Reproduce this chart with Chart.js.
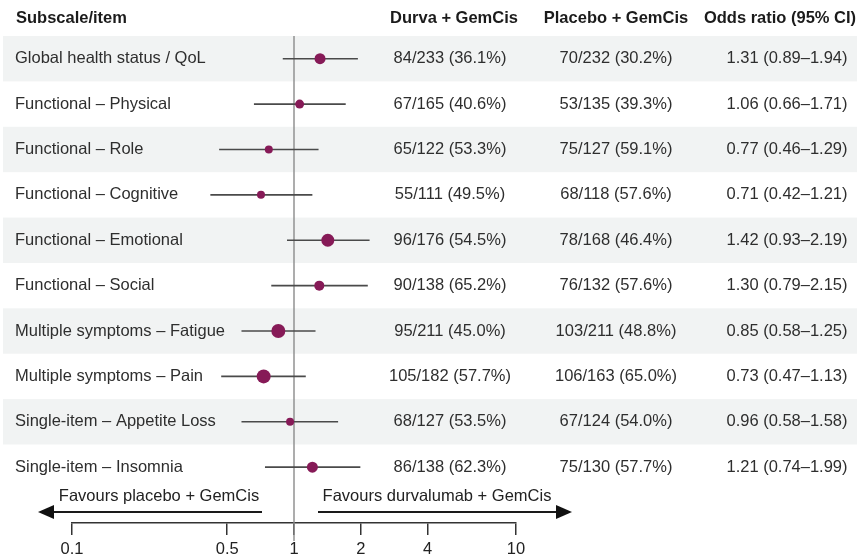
<!DOCTYPE html>
<html>
<head>
<meta charset="utf-8">
<script src="https://cdn.jsdelivr.net/npm/chart.js@4/dist/chart.umd.min.js"></script>
<style>
  html, body { margin: 0; padding: 0; background: #ffffff; }
  #wrap { width: 857px; height: 557px; position: relative; }
  canvas { display: block; }
</style>
</head>
<body>
<div id="wrap"><canvas id="forest" width="857" height="557"></canvas></div>
<script>
// Subscale / item rows, top to bottom
const items = [
  'Global health status / QoL',
  'Functional \u2013 Physical',
  'Functional \u2013 Role',
  'Functional \u2013 Cognitive',
  'Functional \u2013 Emotional',
  'Functional \u2013 Social',
  'Multiple symptoms \u2013 Fatigue',
  'Multiple symptoms \u2013 Pain',
  'Single-item \u2013 Appetite Loss',
  'Single-item \u2013 Insomnia'
];

// Durvalumab + GemCis: responders / evaluable (%)
const durvaEvents = [84, 67, 65, 55, 96, 90, 95, 105, 68, 86];
const durvaTotal  = [233, 165, 122, 111, 176, 138, 211, 182, 127, 138];
const durvaPct    = [36.1, 40.6, 53.3, 49.5, 54.5, 65.2, 45.0, 57.7, 53.5, 62.3];

// Placebo + GemCis: responders / evaluable (%)
const placeboEvents = [70, 53, 75, 68, 78, 76, 103, 106, 67, 75];
const placeboTotal  = [232, 135, 127, 118, 168, 132, 211, 163, 124, 130];
const placeboPct    = [30.2, 39.3, 59.1, 57.6, 46.4, 57.6, 48.8, 65.0, 54.0, 57.7];

// Odds ratios with 95% confidence limits
const oddsRatio = [1.31, 1.06, 0.77, 0.71, 1.42, 1.30, 0.85, 0.73, 0.96, 1.21];
const ciLower   = [0.89, 0.66, 0.46, 0.42, 0.93, 0.79, 0.58, 0.47, 0.58, 0.74];
const ciUpper   = [1.94, 1.71, 1.29, 1.21, 2.19, 2.15, 1.25, 1.13, 1.58, 1.99];

// Relative marker weight for each estimate
const markerWeight = [5.5, 4.5, 4, 4, 6.5, 5, 7, 7, 4, 5.5];

// Odds-ratio axis
const tickValues = [0.1, 0.5, 1, 2, 4, 10];
const tickLabels = ['0.1', '0.5', '1', '2', '4', '10'];

const headers = ['Subscale/item', 'Durva + GemCis', 'Placebo + GemCis', 'Odds ratio (95% CI)'];
const favourLeft = 'Favours placebo + GemCis';
const favourRight = 'Favours durvalumab + GemCis';

const FONT = '"Liberation Sans", Arial, Helvetica, sans-serif';
const POINT_COLOR = '#861a57';
const BAND_COLOR = '#f1f3f3';
const TEXT_COLOR = '#2e2e2e';

const fmt2 = v => v.toFixed(2);
const rowText = (e, n, p) => `${e}/${n} (${p.toFixed(1)}%)`;

const forestPlugin = {
  id: 'forestTable',
  beforeDraw(chart) {
    const { ctx, scales: { y } } = chart;
    ctx.save();
    ctx.fillStyle = BAND_COLOR;
    items.forEach((_, i) => {
      if (i % 2 !== 0) return;
      const top = y.getPixelForValue(i - 0.5);
      const bot = y.getPixelForValue(i + 0.5);
      ctx.fillRect(3, top, chart.width - 3, bot - top);
    });
    ctx.restore();
  },
  beforeDatasetsDraw(chart) {
    const { ctx, scales: { x, y } } = chart;
    ctx.save();
    // line of no effect
    const x1 = x.getPixelForValue(1);
    ctx.strokeStyle = '#8a8a8a';
    ctx.lineWidth = 1.4;
    ctx.beginPath();
    ctx.moveTo(x1, y.getPixelForValue(-0.5));
    ctx.lineTo(x1, 541);
    ctx.stroke();
    // confidence intervals
    ctx.strokeStyle = '#4a4a4a';
    ctx.lineWidth = 1.6;
    items.forEach((_, i) => {
      const py = y.getPixelForValue(i);
      ctx.beginPath();
      ctx.moveTo(x.getPixelForValue(ciLower[i]), py);
      ctx.lineTo(x.getPixelForValue(ciUpper[i]), py);
      ctx.stroke();
    });
    ctx.restore();
  },
  afterDraw(chart) {
    const { ctx, scales: { x, y } } = chart;
    ctx.save();
    ctx.textBaseline = 'middle';

    // column headers
    ctx.font = `bold 16.5px ${FONT}`;
    ctx.fillStyle = '#1b1b1b';
    ctx.textAlign = 'left';
    ctx.fillText(headers[0], 16, 18);
    ctx.textAlign = 'center';
    ctx.fillText(headers[1], 454, 18);
    ctx.fillText(headers[2], 616, 18);
    ctx.fillText(headers[3], 780, 18);

    // table rows
    ctx.font = `16.5px ${FONT}`;
    ctx.fillStyle = TEXT_COLOR;
    items.forEach((label, i) => {
      const py = y.getPixelForValue(i);
      ctx.textAlign = 'left';
      ctx.fillText(label, 15, py);
      ctx.textAlign = 'center';
      ctx.fillText(rowText(durvaEvents[i], durvaTotal[i], durvaPct[i]), 450, py);
      ctx.fillText(rowText(placeboEvents[i], placeboTotal[i], placeboPct[i]), 616, py);
      ctx.fillText(`${fmt2(oddsRatio[i])} (${fmt2(ciLower[i])}\u2013${fmt2(ciUpper[i])})`, 787, py);
    });

    // tick labels of the odds-ratio axis
    ctx.fillStyle = '#222';
    ctx.textAlign = 'center';
    tickValues.forEach((v, k) => {
      ctx.fillText(tickLabels[k], x.getPixelForValue(v), 549);
    });

    // direction arrows
    const arrowY = 512;
    ctx.fillText(favourLeft, 159, 496);
    ctx.fillText(favourRight, 437, 496);

    ctx.strokeStyle = '#1a1a1a';
    ctx.fillStyle = '#111';
    ctx.lineWidth = 2;
    // left
    ctx.beginPath();
    ctx.moveTo(262, arrowY);
    ctx.lineTo(52, arrowY);
    ctx.stroke();
    ctx.beginPath();
    ctx.moveTo(38, arrowY);
    ctx.lineTo(54, arrowY - 7);
    ctx.lineTo(54, arrowY + 7);
    ctx.closePath();
    ctx.fill();
    // right
    ctx.beginPath();
    ctx.moveTo(318, arrowY);
    ctx.lineTo(558, arrowY);
    ctx.stroke();
    ctx.beginPath();
    ctx.moveTo(572, arrowY);
    ctx.lineTo(556, arrowY - 7);
    ctx.lineTo(556, arrowY + 7);
    ctx.closePath();
    ctx.fill();
    ctx.restore();
  }
};

new Chart(document.getElementById('forest'), {
  type: 'scatter',
  data: {
    datasets: [{
      data: oddsRatio.map((v, i) => ({ x: v, y: i })),
      pointRadius: markerWeight,
      pointHoverRadius: markerWeight,
      pointBackgroundColor: POINT_COLOR,
      pointBorderColor: POINT_COLOR,
      pointBorderWidth: 0
    }]
  },
  options: {
    responsive: false,
    animation: false,
    devicePixelRatio: 1,
    layout: { padding: { left: 72, right: 341, top: 36, bottom: 22 } },
    plugins: { legend: { display: false }, tooltip: { enabled: false } },
    scales: {
      x: {
        type: 'logarithmic',
        min: 0.1,
        max: 10,
        afterBuildTicks(scale) {
          scale.ticks = tickValues.map(v => ({ value: v }));
        },
        ticks: { display: false },
        grid: {
          drawOnChartArea: false,
          drawTicks: true,
          tickLength: 12,
          color: '#333',
          lineWidth: 1.5
        },
        border: { display: true, color: '#333', width: 1.5 }
      },
      y: {
        type: 'linear',
        min: -0.5,
        max: 10.23,
        reverse: true,
        display: false
      }
    }
  },
  plugins: [forestPlugin]
});
</script>
</body>
</html>
